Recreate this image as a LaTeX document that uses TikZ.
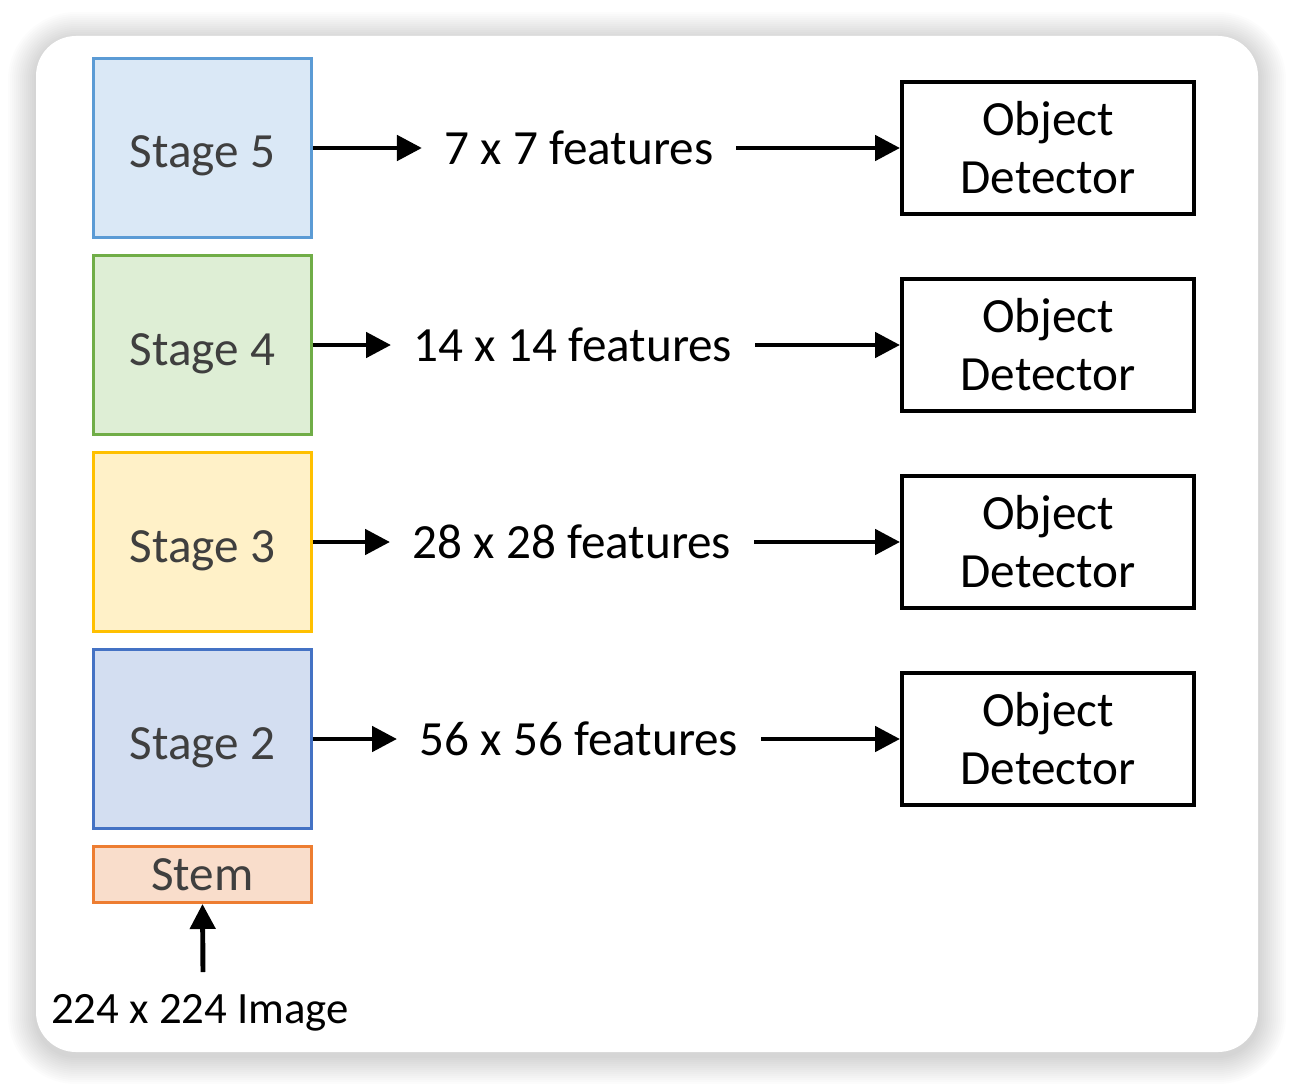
\documentclass[tikz,border=0pt]{standalone}
\usepackage{fontspec}
\setmainfont{Carlito}
\usetikzlibrary{arrows.meta,positioning}

\definecolor{sfivefill}{HTML}{DAE8F6}
\definecolor{sfivedraw}{HTML}{5B9BD5}
\definecolor{sfourfill}{HTML}{DEEED5}
\definecolor{sfourdraw}{HTML}{70AD47}
\definecolor{sthreefill}{HTML}{FFF1C8}
\definecolor{sthreedraw}{HTML}{FFC000}
\definecolor{stwofill}{HTML}{D3DEF1}
\definecolor{stwodraw}{HTML}{4472C4}
\definecolor{stemfill}{HTML}{F9DDCB}
\definecolor{stemdraw}{HTML}{ED7D31}
\definecolor{stagetext}{HTML}{3F3F3F}

\begin{document}
\begin{tikzpicture}[x=0.02cm, y=-0.02cm,
    stagebox/.style={draw, line width=1.7pt, minimum width=4.36cm, minimum height=3.58cm,
        text height=1.0cm, text depth=0.2cm, text=stagetext, font=\fontsize{28}{33}\selectfont},
    stembox/.style={draw=stemdraw, fill=stemfill, line width=1.7pt, minimum width=4.36cm,
        minimum height=1.12cm, text=stagetext, font=\fontsize{28}{33}\selectfont},
    detbox/.style={draw, line width=2.3pt, minimum width=5.84cm, minimum height=2.64cm,
        align=center, font=\fontsize{28}{33}\selectfont},
    featlabel/.style={inner xsep=0.45cm, inner ysep=0pt, font=\fontsize{28}{33}\selectfont},
    fatarrow/.style={line width=2.8pt, -{Triangle[length=0.5cm, width=0.5cm]}}]

    \useasboundingbox (0,0) rectangle (1294,1088);

    % Card with soft shadow
    \foreach \s in {1,...,14} {
        \fill[black, opacity=0.011, rounded corners=0.8cm+\s*0.04cm]
            (36-2*\s,40-2*\s) rectangle (1258+2*\s,1056+2*\s);
    }
    \fill[white, rounded corners=0.8cm] (36,36) rectangle (1258,1052);

    % Stages, features and detectors
    \foreach \n/\y/\fc/\dc/\lab/\fx in {5/148/sfivefill/sfivedraw/7 x 7/579,
                                       4/345/sfourfill/sfourdraw/14 x 14/573,
                                       3/542/sthreefill/sthreedraw/28 x 28/572,
                                       2/739/stwofill/stwodraw/56 x 56/579} {
        \node[stagebox, fill=\fc, draw=\dc] (stage\n) at (202.5,\y) {Stage \n};
        \node[detbox] (det\n) at (1048,\y) {Object\\Detector};
        \node[featlabel] (feat\n) at (\fx,\y) {\lab{} features};
        \draw[fatarrow] (stage\n.east) -- (feat\n.west);
        \draw[fatarrow] (feat\n.east) -- (det\n.west);
    }

    % Stem and input
    \node[stembox] (stem) at (202.5,874.5) {Stem};
    \node[font=\fontsize{25.5}{30}\selectfont] (img) at (200,1013) {224 x 224 Image};
    \coordinate (imgtop) at (203,972);
    \draw[fatarrow] (imgtop) -- (stem.south);
\end{tikzpicture}
\end{document}
